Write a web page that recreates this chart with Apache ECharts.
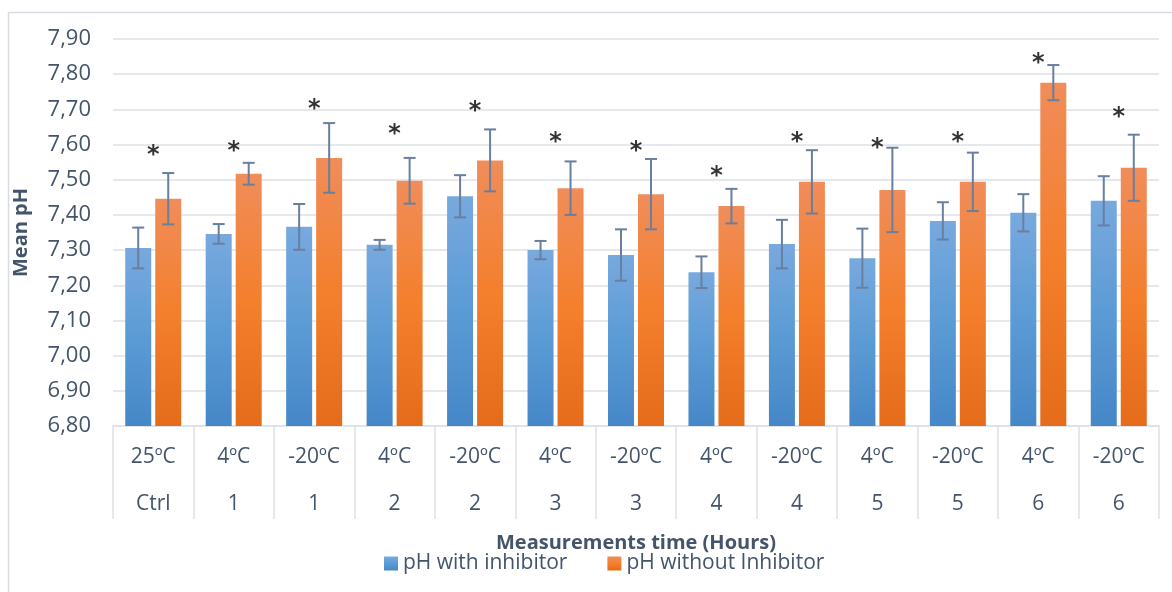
<!DOCTYPE html>
<html>
<head>
<meta charset="utf-8">
<script src="https://cdn.jsdelivr.net/npm/echarts@6/dist/echarts.min.js"></script>
<style>
  html, body { margin: 0; padding: 0; background: #fff; }
  #chart { width: 1172px; height: 592px; }
</style>
</head>
<body>
<div id="chart"></div>
<script>
// categorias: temperatura + tempo de medição
const temps = ['25ºC', '4ºC', '-20ºC', '4ºC', '-20ºC', '4ºC', '-20ºC', '4ºC', '-20ºC', '4ºC', '-20ºC', '4ºC', '-20ºC'];
const hours = ['Ctrl', '1', '1', '2', '2', '3', '3', '4', '4', '5', '5', '6', '6'];

// médias de pH
const withInhibitor = [7.306, 7.346, 7.366, 7.315, 7.453, 7.300, 7.286, 7.237, 7.317, 7.277, 7.383, 7.406, 7.440];
const withoutInhibitor = [7.446, 7.517, 7.562, 7.497, 7.555, 7.476, 7.459, 7.425, 7.494, 7.471, 7.494, 7.776, 7.534];

// desvios (barras de erro)
const errWith = [0.058, 0.028, 0.065, 0.014, 0.060, 0.026, 0.073, 0.045, 0.069, 0.084, 0.053, 0.053, 0.070];
const errWithout = [0.073, 0.031, 0.099, 0.065, 0.088, 0.076, 0.100, 0.049, 0.090, 0.120, 0.083, 0.050, 0.094];

// posição dos asteriscos (significância)
const starLevel = [7.583, 7.593, 7.713, 7.641, 7.708, 7.620, 7.595, 7.523, 7.620, 7.603, 7.620, 7.844, 7.691];

const yTicks = { min: 6.8, max: 7.9, interval: 0.1 };

const FONT = 'Open Sans';
const textColor = '#44546a';
const gridColor = '#dde1e7';
const errColor = '#687f9f';
const BAR_W = 26;
const BAR_GAP = 4;

const chart = echarts.init(document.getElementById('chart'));

function grad(top, mid, bottom) {
  return new echarts.graphic.LinearGradient(0, 0, 0, 1, [
    { offset: 0, color: top },
    { offset: 0.5, color: mid },
    { offset: 1, color: bottom }
  ]);
}

// barra de erro desenhada no centro de cada barra
function errorBars(values, errs, side) {
  return {
    type: 'custom',
    silent: true,
    z: 5,
    data: values.map((v, i) => [i, v - errs[i], v + errs[i]]),
    renderItem: (params, api) => {
      const lo = api.coord([api.value(0), api.value(1)]);
      const hi = api.coord([api.value(0), api.value(2)]);
      const x = lo[0] + side * (BAR_W + BAR_GAP) / 2;
      const cap = 6;
      const style = { stroke: errColor, lineWidth: 2 };
      return {
        type: 'group',
        children: [
          { type: 'line', shape: { x1: x, y1: hi[1], x2: x, y2: lo[1] }, style },
          { type: 'line', shape: { x1: x - cap, y1: hi[1], x2: x + cap, y2: hi[1] }, style },
          { type: 'line', shape: { x1: x - cap, y1: lo[1], x2: x + cap, y2: lo[1] }, style }
        ]
      };
    }
  };
}

const option = {
  animation: false,
  textStyle: { fontFamily: FONT },
  graphic: [{
    type: 'rect',
    shape: { x: 8.5, y: 12.5, width: 1200, height: 700 },
    style: { fill: 'none', stroke: '#d9dde3', lineWidth: 1.5 },
    z: -1
  }],
  grid: { left: 113, right: 13, top: 39, bottom: 166 },
  legend: {
    data: ['pH with inhibitor', 'pH without Inhibitor'],
    left: 384,
    top: 553,
    padding: 0,
    itemWidth: 14,
    itemHeight: 14,
    itemGap: 40,
    icon: 'rect',
    textStyle: { color: textColor, fontSize: 21, fontFamily: FONT }
  },
  xAxis: {
    type: 'category',
    data: temps.map((t, i) => t + '\n' + hours[i]),
    name: 'Measurements time (Hours)',
    nameLocation: 'middle',
    nameGap: 101,
    nameTextStyle: { color: textColor, fontSize: 20, fontWeight: 'bold', fontFamily: FONT },
    axisLine: { show: true, lineStyle: { color: gridColor, width: 1.5 } },
    axisTick: { show: true, interval: 0, length: 93, lineStyle: { color: gridColor, width: 1.5 } },
    axisLabel: {
      interval: 0,
      color: textColor,
      fontSize: 21,
      lineHeight: 47,
      margin: 8,
      fontFamily: FONT
    }
  },
  yAxis: {
    type: 'value',
    min: yTicks.min,
    max: yTicks.max,
    interval: yTicks.interval,
    name: 'Mean pH',
    nameLocation: 'middle',
    nameGap: 82,
    nameTextStyle: { color: textColor, fontSize: 20, fontWeight: 'bold', fontFamily: FONT },
    axisLine: { show: false },
    axisTick: { show: false },
    axisLabel: {
      color: textColor,
      fontSize: 22,
      margin: 22,
      fontFamily: FONT,
      formatter: v => v.toFixed(2).replace('.', ',')
    },
    splitLine: { lineStyle: { color: gridColor, width: 1.5 } }
  },
  series: [
    {
      name: 'pH with inhibitor',
      type: 'bar',
      barWidth: BAR_W,
      barGap: (BAR_GAP / BAR_W * 100) + '%',
      itemStyle: { color: grad('#78a9de', '#5b9bd5', '#4587c7') },
      data: withInhibitor
    },
    {
      name: 'pH without Inhibitor',
      type: 'bar',
      barWidth: BAR_W,
      itemStyle: { color: grad('#f08d5a', '#f47f2c', '#e46c1a') },
      data: withoutInhibitor
    },
    errorBars(withInhibitor, errWith, -1),
    errorBars(withoutInhibitor, errWithout, 1),
    {
      name: 'sig',
      type: 'scatter',
      symbolSize: 1,
      itemStyle: { color: 'rgba(0,0,0,0)' },
      silent: true,
      z: 6,
      label: {
        show: true,
        position: 'inside',
        formatter: '*',
        color: '#000',
        fontSize: 24,
        fontWeight: 'bold',
        fontFamily: 'DejaVu Sans',
        offset: [0, 5]
      },
      data: starLevel
    }
  ]
};

chart.setOption(option);
</script>
</body>
</html>
